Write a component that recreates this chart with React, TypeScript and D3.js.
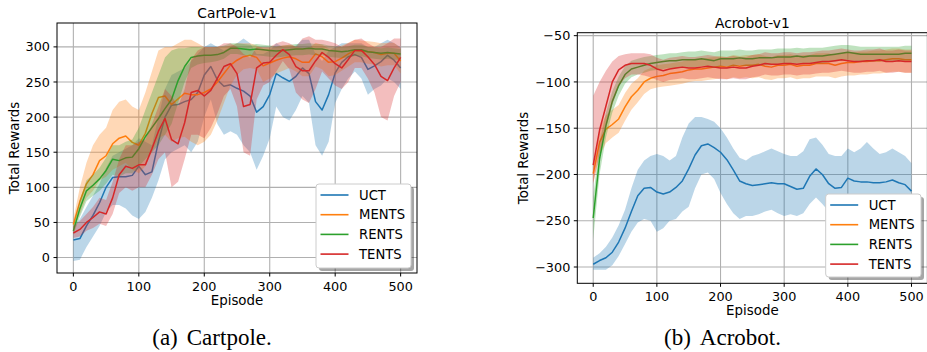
import React from 'react';
import * as d3 from 'd3';

// episodes sampled every 10 steps
const episodes = d3.range(0, 501, 10);
const methods = ['UCT', 'MENTS', 'RENTS', 'TENTS'];
const colors = ['#1f77b4', '#ff7f0e', '#2ca02c', '#d62728'];

// CartPole-v1
const cpUctMean = [25, 27, 45, 60, 78, 100, 114, 115, 115, 117, 130, 118, 122, 165, 200, 217, 218, 222, 225, 235, 260, 272, 253, 244, 246, 241, 237, 230, 207, 215, 232, 262, 256, 251, 258, 270, 262, 222, 210, 232, 263, 278, 286, 289, 285, 268, 273, 279, 288, 281, 270];
const cpUctLo = [-5, -3, 15, 30, 45, 65, 75, 75, 70, 60, 55, 65, 85, 110, 140, 150, 155, 160, 150, 165, 200, 225, 190, 175, 180, 175, 160, 150, 125, 145, 170, 215, 200, 195, 210, 230, 220, 160, 145, 165, 220, 240, 255, 265, 255, 232, 240, 245, 255, 250, 240];
const cpUctHi = [45, 55, 72, 88, 105, 128, 145, 150, 155, 160, 170, 165, 160, 200, 240, 260, 265, 270, 280, 290, 300, 305, 300, 295, 300, 305, 312, 305, 290, 290, 295, 305, 300, 300, 302, 310, 310, 290, 280, 295, 300, 305, 305, 305, 305, 300, 300, 305, 310, 305, 300];
const cpMentsMean = [47, 80, 105, 118, 138, 145, 162, 170, 173, 164, 160, 177, 205, 228, 230, 218, 226, 234, 232, 232, 235, 240, 250, 262, 274, 281, 286, 288, 285, 273, 277, 281, 284, 286, 283, 278, 278, 290, 286, 278, 279, 284, 290, 295, 294, 293, 292, 289, 291, 291, 280];
const cpMentsLo = [40, 62, 85, 95, 110, 115, 125, 130, 135, 125, 120, 130, 150, 170, 175, 165, 170, 172, 165, 160, 165, 175, 195, 220, 245, 260, 268, 270, 268, 250, 255, 262, 266, 270, 265, 258, 258, 272, 268, 258, 260, 266, 272, 278, 278, 276, 275, 272, 274, 274, 262];
const cpMentsHi = [55, 100, 135, 160, 175, 185, 210, 222, 225, 215, 210, 235, 265, 295, 300, 300, 305, 310, 310, 305, 300, 300, 300, 300, 302, 305, 305, 305, 302, 298, 298, 300, 302, 303, 301, 298, 298, 306, 303, 298, 298, 302, 306, 310, 309, 308, 307, 305, 306, 306, 298];
const cpRentsMean = [38, 70, 95, 103, 112, 124, 140, 138, 142, 143, 155, 172, 185, 198, 212, 225, 252, 272, 285, 287, 288, 288, 289, 292, 298, 298, 297, 296, 297, 296, 295, 294, 295, 296, 297, 297, 298, 297, 297, 295, 294, 293, 294, 296, 296, 293, 292, 291, 292, 291, 290];
const cpRentsLo = [32, 58, 80, 88, 95, 105, 118, 115, 120, 120, 130, 140, 150, 160, 175, 190, 220, 250, 270, 275, 277, 278, 280, 283, 290, 290, 288, 287, 288, 287, 286, 285, 286, 287, 288, 288, 289, 288, 288, 286, 285, 284, 285, 287, 287, 284, 283, 282, 283, 282, 281];
const cpRentsHi = [45, 82, 110, 118, 128, 142, 160, 160, 165, 168, 185, 210, 235, 260, 285, 295, 298, 298, 300, 300, 299, 299, 300, 302, 305, 305, 304, 303, 304, 303, 302, 301, 302, 303, 304, 304, 305, 304, 304, 302, 301, 300, 301, 303, 303, 300, 299, 298, 299, 298, 297];
const cpTentsMean = [35, 40, 50, 57, 65, 62, 85, 118, 130, 127, 132, 132, 155, 180, 198, 168, 162, 192, 235, 238, 230, 238, 255, 272, 276, 262, 215, 218, 270, 277, 278, 288, 296, 289, 272, 266, 266, 280, 292, 285, 276, 270, 282, 295, 295, 286, 275, 258, 252, 270, 285];
const cpTentsLo = [28, 30, 38, 42, 48, 45, 62, 92, 100, 95, 100, 100, 118, 140, 150, 100, 108, 140, 175, 175, 170, 185, 205, 230, 240, 215, 150, 145, 225, 245, 250, 265, 280, 268, 235, 225, 220, 240, 265, 255, 245, 240, 250, 270, 270, 255, 235, 200, 195, 230, 250];
const cpTentsHi = [45, 52, 62, 72, 85, 82, 108, 140, 160, 160, 165, 168, 190, 215, 240, 230, 215, 240, 282, 295, 300, 300, 300, 305, 305, 300, 290, 285, 300, 300, 300, 305, 308, 305, 300, 312, 315, 310, 310, 308, 305, 300, 305, 310, 312, 305, 300, 300, 305, 312, 312];

// Acrobot-v1
const acUctMean = [-297, -293, -290, -284, -273, -258, -240, -223, -215, -214, -219, -221, -219, -214, -207, -194, -179, -169, -167, -171, -176, -184, -195, -207, -210, -212, -211, -210, -209, -210, -210, -213, -216, -215, -202, -194, -200, -210, -215, -214, -204, -207, -208, -208, -209, -209, -208, -206, -209, -211, -218];
const acUctLo = [-303, -303, -303, -298, -288, -275, -262, -252, -248, -250, -262, -258, -250, -248, -240, -235, -215, -200, -198, -205, -220, -232, -242, -248, -245, -245, -243, -240, -238, -242, -245, -243, -245, -242, -232, -225, -232, -240, -242, -240, -232, -235, -237, -236, -238, -236, -235, -232, -235, -238, -245];
const acUctHi = [-290, -285, -278, -268, -255, -238, -215, -195, -185, -180, -178, -180, -185, -180, -160, -145, -138, -138, -140, -143, -150, -160, -172, -182, -185, -180, -178, -175, -172, -175, -178, -180, -180, -175, -162, -160, -168, -178, -180, -180, -172, -176, -172, -165, -172, -178, -176, -172, -176, -180, -188];
const acMentsMean = [-199, -165, -151, -146, -140, -127, -116, -109, -100, -96, -94, -93, -91, -90, -89, -87, -86, -86, -85, -84, -83, -84, -82, -83, -82, -82, -81, -83, -84, -82, -82, -81, -83, -82, -82, -80, -80, -80, -82, -80, -79, -79, -78, -78, -77, -77, -76, -75, -75, -76, -76];
const acMentsLo = [-209, -180, -166, -160, -155, -142, -130, -122, -113, -108, -106, -105, -104, -103, -102, -100, -99, -99, -98, -97, -96, -97, -95, -96, -95, -96, -95, -97, -98, -96, -96, -95, -97, -96, -96, -94, -94, -94, -96, -94, -93, -93, -92, -92, -91, -91, -90, -89, -89, -90, -90];
const acMentsHi = [-190, -150, -136, -130, -125, -112, -102, -96, -88, -85, -82, -81, -80, -79, -78, -76, -75, -75, -74, -73, -72, -73, -71, -72, -71, -71, -70, -72, -73, -71, -71, -70, -72, -71, -71, -69, -69, -69, -71, -69, -68, -68, -67, -67, -66, -66, -65, -64, -64, -65, -65];
const acRentsMean = [-247, -183, -147, -121, -104, -92, -86, -84, -82, -80, -79, -78, -77, -77, -76, -76, -76, -75, -76, -77, -75, -75, -75, -74, -75, -75, -74, -74, -74, -73, -73, -73, -72, -73, -72, -72, -72, -71, -70, -69, -68, -69, -70, -70, -70, -70, -70, -70, -70, -69, -69];
const acRentsLo = [-270, -200, -160, -133, -115, -102, -95, -92, -90, -88, -87, -86, -85, -85, -84, -84, -84, -83, -84, -85, -83, -83, -83, -82, -83, -83, -82, -82, -82, -81, -81, -81, -80, -81, -80, -80, -80, -79, -78, -77, -76, -77, -78, -78, -78, -78, -78, -78, -78, -77, -77];
const acRentsHi = [-225, -165, -133, -110, -94, -83, -77, -75, -73, -72, -71, -70, -69, -69, -68, -67, -67, -66, -67, -68, -66, -66, -66, -65, -66, -66, -65, -65, -65, -64, -64, -64, -63, -64, -63, -63, -63, -62, -61, -60, -60, -61, -62, -62, -62, -62, -62, -62, -62, -61, -61];
const acTentsMean = [-190, -152, -126, -100, -87, -82, -80, -80, -80, -82, -86, -88, -86, -85, -84, -85, -85, -84, -83, -84, -85, -85, -84, -85, -85, -83, -82, -80, -81, -81, -80, -80, -81, -80, -80, -79, -78, -78, -77, -76, -77, -78, -78, -77, -77, -76, -78, -78, -77, -78, -78];
const acTentsLo = [-210, -178, -150, -125, -105, -96, -92, -92, -93, -95, -98, -100, -98, -97, -96, -97, -97, -96, -95, -96, -97, -97, -96, -97, -97, -95, -94, -92, -93, -93, -92, -92, -93, -92, -92, -91, -90, -90, -89, -88, -89, -90, -90, -89, -89, -88, -90, -90, -89, -90, -90];
const acTentsHi = [-115, -100, -88, -78, -72, -70, -69, -69, -69, -70, -74, -76, -74, -73, -72, -73, -73, -72, -71, -72, -73, -73, -72, -73, -73, -71, -70, -68, -69, -69, -68, -68, -69, -68, -68, -67, -66, -66, -65, -64, -65, -66, -66, -65, -65, -64, -66, -66, -65, -66, -66];

const xTicks = [0, 100, 200, 300, 400, 500];
const cpYTicks = [0, 50, 100, 150, 200, 250, 300];
const acYTicks = [-300, -250, -200, -150, -100, -50];

const FONT = '"DejaVu Sans", sans-serif';

function Panel({ id, title, caption, series, yTicks, yDomain, box, legend, captionX }) {
  const x = d3.scaleLinear().domain([-25, 525]).range([box.left, box.right]);
  const y = d3.scaleLinear().domain(yDomain).range([box.bottom, box.top]);
  const line = d3.line<number>().x((d, i) => x(episodes[i])).y(d => y(d));
  const cx = (box.left + box.right) / 2;
  const cy = (box.top + box.bottom) / 2;

  return (
    <g>
      <defs>
        <clipPath id={id}>
          <rect x={box.left} y={box.top} width={box.right - box.left} height={box.bottom - box.top} />
        </clipPath>
      </defs>
      {/* grid */}
      {xTicks.map(t => (
        <line key={'gx' + t} x1={x(t)} x2={x(t)} y1={box.top} y2={box.bottom} stroke="#b0b0b0" strokeWidth={1.1} />
      ))}
      {yTicks.map(t => (
        <line key={'gy' + t} x1={box.left} x2={box.right} y1={y(t)} y2={y(t)} stroke="#b0b0b0" strokeWidth={1.1} />
      ))}
      <g clipPath={`url(#${id})`}>
        {series.map((s, k) => {
          const a = d3.area<number>()
            .x((d, i) => x(episodes[i]))
            .y0((d, i) => y(s.lo[i]))
            .y1((d, i) => y(s.hi[i]));
          return (
            <g key={k}>
              <path d={a(s.mean) || ''} fill={colors[k]} fillOpacity={0.3} stroke="none" />
              <path d={line(s.mean) || ''} fill="none" stroke={colors[k]} strokeWidth={1.5} strokeLinejoin="round" />
            </g>
          );
        })}
      </g>
      {/* spines */}
      <rect x={box.left} y={box.top} width={box.right - box.left} height={box.bottom - box.top} fill="none" stroke="#000" strokeWidth={1} />
      {/* ticks */}
      {xTicks.map(t => (
        <g key={'tx' + t}>
          <line x1={x(t)} x2={x(t)} y1={box.bottom} y2={box.bottom + 3.5} stroke="#000" />
          <text x={x(t)} y={box.bottom + 18} textAnchor="middle" fontSize={12.8} fontFamily={FONT} fill="#000">{t}</text>
        </g>
      ))}
      {yTicks.map(t => (
        <g key={'ty' + t}>
          <line x1={box.left - 3.5} x2={box.left} y1={y(t)} y2={y(t)} stroke="#000" />
          <text x={box.left - 7} y={y(t) + 4.6} textAnchor="end" fontSize={12.8} fontFamily={FONT} fill="#000">
            {t < 0 ? '\u2212' + Math.abs(t) : t}
          </text>
        </g>
      ))}
      <text x={cx} y={box.top - 5} textAnchor="middle" fontSize={13.8} fontFamily={FONT}>{title}</text>
      <text x={cx} y={box.bottom + 32} textAnchor="middle" fontSize={13.4} fontFamily={FONT}>Episode</text>
      <text transform={`translate(${box.yLabelX},${cy}) rotate(-90)`} textAnchor="middle" fontSize={13.4} fontFamily={FONT}>Total Rewards</text>
      {/* legend */}
      <g>
        <rect x={legend.x + 3} y={legend.y + 3} width={legend.w} height={legend.h} rx={3} fill="#000" fillOpacity={0.35} />
        <rect x={legend.x} y={legend.y} width={legend.w} height={legend.h} rx={3} fill="#fff" stroke="#cccccc" strokeWidth={1} />
        {methods.map((m, k) => {
          const ly = legend.y + 11 + k * 19.7;
          return (
            <g key={m}>
              <line x1={legend.x + 4.5} x2={legend.x + 32.5} y1={ly} y2={ly} stroke={colors[k]} strokeWidth={1.6} />
              <text x={legend.x + 43} y={ly + 4.7} fontSize={13.2} fontFamily={FONT}>{m}</text>
            </g>
          );
        })}
      </g>
      <text x={captionX} y={345} textAnchor="middle" fontSize={23} fontFamily='"Liberation Serif", "Times New Roman", serif'>
        {caption[0]}<tspan dx={9}>{caption[1]}</tspan>
      </text>
    </g>
  );
}

export default function App() {
  const cpSeries = [
    { mean: cpUctMean, lo: cpUctLo, hi: cpUctHi },
    { mean: cpMentsMean, lo: cpMentsLo, hi: cpMentsHi },
    { mean: cpRentsMean, lo: cpRentsLo, hi: cpRentsHi },
    { mean: cpTentsMean, lo: cpTentsLo, hi: cpTentsHi },
  ];
  const acSeries = [
    { mean: acUctMean, lo: acUctLo, hi: acUctHi },
    { mean: acMentsMean, lo: acMentsLo, hi: acMentsHi },
    { mean: acRentsMean, lo: acRentsLo, hi: acRentsHi },
    { mean: acTentsMean, lo: acTentsLo, hi: acTentsHi },
  ];
  return (
    <svg width={927} height={352} style={{ position: 'absolute', left: 0, top: 0, background: '#fff' }}>
      <Panel
        id="cp"
        title="CartPole-v1"
        caption={['(a)', 'Cartpole.']}
        series={cpSeries}
        yTicks={cpYTicks}
        yDomain={[-22, 334]}
        box={{ left: 57, right: 417, top: 23, bottom: 273, yLabelX: 18.5 }}
        legend={{ x: 316, y: 184, w: 95, h: 84 }}
        captionX={212}
      />
      <Panel
        id="ac"
        title="Acrobot-v1"
        caption={['(b)', 'Acrobot.']}
        series={acSeries}
        yTicks={acYTicks}
        yDomain={[-317.6, -46.8]}
        box={{ left: 577.3, right: 927.4, top: 32.7, bottom: 283.3, yLabelX: 528 }}
        legend={{ x: 825.7, y: 194, w: 95.3, h: 83 }}
        captionX={722.5}
      />
    </svg>
  );
}
